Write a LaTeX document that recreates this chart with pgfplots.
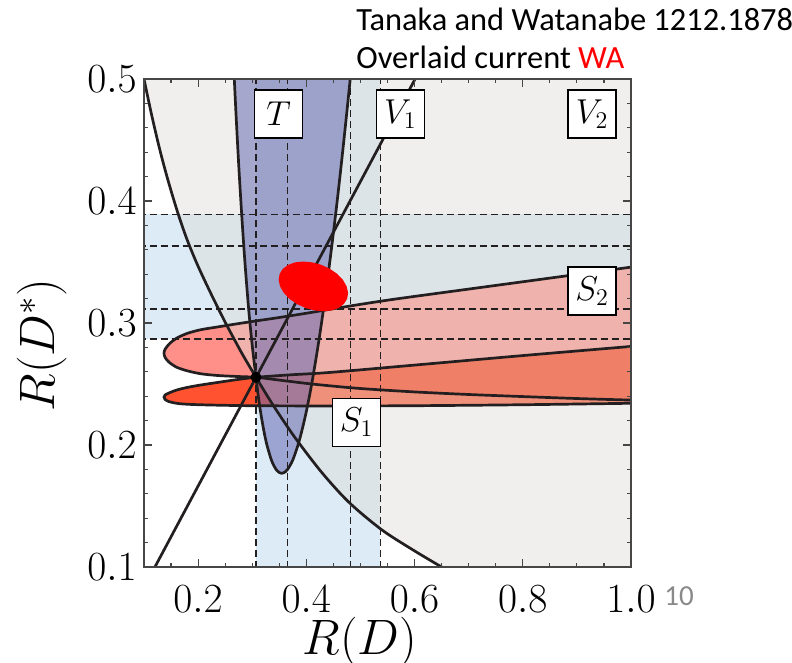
\documentclass[border=0pt]{standalone}
\usepackage{pgfplots}
\pgfplotsset{compat=1.18}
\usepackage{pgfplotstable}
\usepackage{fontspec}
\newfontfamily\slidefont{Carlito}

\definecolor{bandblue}{RGB}{220,235,246}
\definecolor{stwo}{RGB}{255,143,137}
\definecolor{sone}{RGB}{255,82,48}
\definecolor{soverlap}{RGB}{255,52,10}
\definecolor{grayover}{RGB}{222,220,215}
\definecolor{tfill}{RGB}{100,104,178}
\definecolor{curvecol}{RGB}{35,31,32}
\definecolor{framegray}{RGB}{70,70,70}
\definecolor{slidegray}{RGB}{137,137,137}

% boundary of the V2 curve (region above it is shaded)
\pgfplotstableread{
x y
0.095 0.5115
0.100 0.5000
0.115 0.4688
0.130 0.4407
0.145 0.4160
0.163 0.3896
0.180 0.3679
0.200 0.3465
0.225 0.3229
0.250 0.3007
0.280 0.2759
0.307 0.2555
0.340 0.2317
0.380 0.2055
0.430 0.1767
0.480 0.1525
0.540 0.1303
0.600 0.1132
0.650 0.1000
0.670 0.0950
}\curveA

\pgfplotstableread{
x y
0.095 0.5115
0.100 0.5000
0.115 0.4688
0.130 0.4407
0.145 0.4160
0.163 0.3896
0.180 0.3679
0.200 0.3465
0.225 0.3229
0.250 0.3007
0.280 0.2759
0.307 0.2555
0.340 0.2317
0.380 0.2055
0.430 0.1767
0.480 0.1525
0.540 0.1303
0.600 0.1132
0.650 0.1000
0.670 0.0950
1.050 0.0950
1.050 0.5200
0.095 0.5200
}\grayregion

% T region
\pgfplotstableread{
x y
0.2658 0.51
0.2702 0.47
0.2750 0.43
0.2804 0.39
0.2865 0.35
0.2937 0.31
0.3004 0.28
0.3070 0.2555
0.3112 0.24
0.3162 0.225
0.3222 0.21
0.3272 0.20
0.3337 0.19
0.3379 0.185
0.3440 0.18
0.3481 0.178
0.3545 0.1768
0.3611 0.178
0.3654 0.18
0.3721 0.185
0.3770 0.19
0.3846 0.20
0.3908 0.21
0.3988 0.225
0.4057 0.24
0.4121 0.2555
0.4212 0.28
0.4313 0.31
0.4433 0.35
0.4544 0.39
0.4646 0.43
0.4742 0.47
0.4834 0.51
}\Tregion

% S2 region
\pgfplotstableread{
x y
1.03 0.3476
1.00 0.3458
0.90 0.3398
0.80 0.3338
0.70 0.3278
0.60 0.3218
0.55 0.3187
0.50 0.3153
0.45 0.3117
0.40 0.3080
0.35 0.3045
0.307 0.3017
0.27 0.2992
0.235 0.2967
0.205 0.2945
0.18 0.2915
0.16 0.2875
0.147 0.2830
0.139 0.2785
0.137 0.2752
0.139 0.2718
0.146 0.2680
0.16 0.2638
0.18 0.2608
0.205 0.2584
0.235 0.2570
0.27 0.2562
0.307 0.2555
0.35 0.2532
0.40 0.2505
0.444 0.2485
0.50 0.2463
0.60 0.2435
0.70 0.2414
0.80 0.2397
0.90 0.2381
1.00 0.2368
1.03 0.2364
}\Stwo

% S1 region
\pgfplotstableread{
x y
1.03 0.2820
1.00 0.2808
0.80 0.2733
0.60 0.2655
0.444 0.2595
0.37 0.2575
0.307 0.2555
0.27 0.2535
0.235 0.2512
0.205 0.2492
0.18 0.2472
0.16 0.2450
0.147 0.2428
0.139 0.2410
0.137 0.2392
0.139 0.2373
0.146 0.2356
0.16 0.2342
0.18 0.2334
0.22 0.2328
0.30 0.2322
0.45 0.2320
0.60 0.2322
0.80 0.2330
1.00 0.2342
1.03 0.2344
}\Sone

% overlap of S1 and S2
\pgfplotstableread{
x y
0.307 0.2555
0.37 0.2575
0.444 0.2595
0.60 0.2655
0.80 0.2733
1.00 0.2808
1.03 0.2820
1.03 0.2364
1.00 0.2368
0.90 0.2381
0.80 0.2397
0.70 0.2414
0.60 0.2435
0.50 0.2463
0.444 0.2485
0.40 0.2505
0.35 0.2532
0.307 0.2555
}\Soverlap

% world average
\pgfplotstableread{
x y
0.4755 0.3199
0.4772 0.3248
0.4744 0.3301
0.4675 0.3354
0.4569 0.3403
0.4432 0.3445
0.4275 0.3477
0.4109 0.3497
0.3943 0.3504
0.3791 0.3497
0.3661 0.3476
0.3564 0.3443
0.3505 0.3401
0.3488 0.3352
0.3516 0.3299
0.3585 0.3246
0.3691 0.3197
0.3828 0.3155
0.3985 0.3123
0.4151 0.3103
0.4317 0.3096
0.4469 0.3103
0.4599 0.3124
0.4696 0.3157
}\wa

\tikzset{lbl/.style={draw=black, line width=0.7pt, fill=white,
  minimum width=24pt, minimum height=24pt, inner sep=0pt,
  font=\fontsize{17}{20}\selectfont}}

\begin{document}
\begin{tikzpicture}
\useasboundingbox (-72pt,-48pt) rectangle (324pt,283.5pt);
\begin{axis}[
  scale only axis, width=243.5pt, height=244pt,
  xmin=0.1, xmax=1.0, ymin=0.1, ymax=0.5,
  axis on top,
  axis line style={draw=framegray, line width=0.8pt},
  tick align=inside,
  major tick length=3.8pt, minor tick length=2.2pt,
  tick style={draw=framegray, line width=0.6pt},
  xtick={0.2,0.4,0.6,0.8,1.0},
  ytick={0.1,0.2,0.3,0.4,0.5},
  minor xtick={0.15,0.25,0.3,0.35,0.45,0.5,0.55,0.65,0.7,0.75,0.85,0.9,0.95},
  minor ytick={0.12,0.14,0.16,0.18,0.22,0.24,0.26,0.28,0.32,0.34,0.36,0.38,0.42,0.44,0.46,0.48},
  tick label style={font=\fontsize{22.5}{27}\selectfont, inner sep=0pt},
  xticklabel style={/pgf/number format/fixed, /pgf/number format/fixed zerofill,
    /pgf/number format/precision=1, yshift=-9pt},
  yticklabel style={/pgf/number format/fixed, /pgf/number format/fixed zerofill,
    /pgf/number format/precision=1, xshift=-3.5pt},
  xlabel={$R(D)$}, ylabel={$R(D^*)$},
  label style={font=\fontsize{23}{27}\selectfont},
  xlabel style={at={(axis description cs:0.4435,-0.1803)}, anchor=base},
  ylabel style={at={(axis description cs:-0.2094,0.4549)}, anchor=center},
]
% experimental 2 sigma bands
\addplot[fill=bandblue, draw=none] coordinates {(0.307,0.09) (0.537,0.09) (0.537,0.51) (0.307,0.51)} -- cycle;
\addplot[fill=bandblue, draw=none] coordinates {(0.09,0.287) (1.01,0.287) (1.01,0.389) (0.09,0.389)} -- cycle;
% scalar regions
\addplot[fill=stwo, draw=none] table {\Stwo} -- cycle;
\addplot[fill=sone, draw=none] table {\Sone} -- cycle;
\addplot[fill=soverlap, draw=none] table {\Soverlap} -- cycle;
% V2 region
\addplot[fill=grayover, fill opacity=0.455, draw=none] table {\grayregion} -- cycle;
% tensor region
\addplot[fill=tfill, fill opacity=0.53, draw=none] table {\Tregion} -- cycle;
% 1 sigma / 2 sigma dashed lines
\addplot[curvecol, line width=0.65pt, dash pattern=on 3.5pt off 2pt, unbounded coords=jump] table {
x y
0.307 0.09
0.307 0.51
nan nan
0.365 0.09
0.365 0.51
nan nan
0.482 0.09
0.482 0.51
nan nan
0.537 0.09
0.537 0.51
nan nan
0.09 0.287
1.01 0.287
nan nan
0.09 0.3115
1.01 0.3115
nan nan
0.09 0.363
1.01 0.363
nan nan
0.09 0.389
1.01 0.389
};
% boundaries
\addplot[curvecol, line width=1.35pt, smooth] table {\curveA};
\addplot[curvecol, line width=1.35pt] coordinates {(0.11,0.0915) (0.62,0.5158)};
\addplot[curvecol, line width=1.35pt, smooth] table {\Tregion};
\addplot[curvecol, line width=1.35pt, smooth] table {\Stwo};
\addplot[curvecol, line width=1.35pt, smooth] table {\Sone};
% Standard Model point
\addplot[only marks, mark=*, mark size=2.5pt, black] coordinates {(0.307,0.2555)};
% current world average
\addplot[fill=red, draw=none] table {\wa} -- cycle;
% region labels
\node[lbl] at (axis cs:0.349,0.4713) {$T$};
\node[lbl] at (axis cs:0.574,0.4713) {$V_1$};
\node[lbl] at (axis cs:0.928,0.4713) {$V_2$};
\node[lbl] at (axis cs:0.928,0.3262) {$S_2$};
\node[lbl] at (axis cs:0.493,0.2184) {$S_1$};
\end{axis}
\node[anchor=base west, inner sep=0pt, font=\slidefont\fontsize{16.2}{19}\selectfont] at (106pt,268.2pt) {Tanaka and Watanabe 1212.1878};
\node[anchor=base west, inner sep=0pt, font=\slidefont\fontsize{16.2}{19}\selectfont] at (106pt,249.4pt) {Overlaid current \textcolor{red}{WA}};
\node[anchor=base west, inner sep=0pt, text=slidegray, font=\slidefont\fontsize{14.5}{17}\selectfont] at (260pt,-19.5pt) {10};
\end{tikzpicture}
\end{document}
